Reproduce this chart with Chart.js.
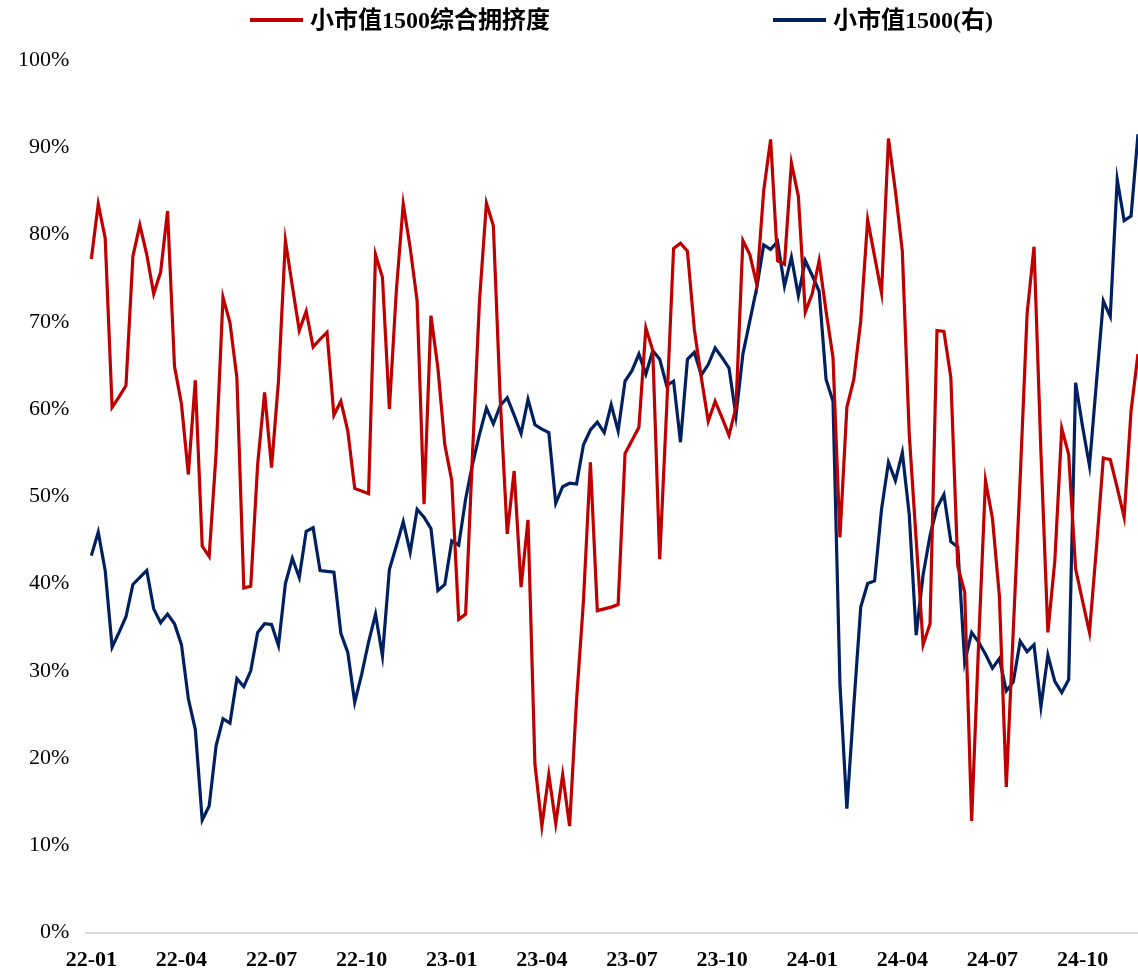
<!DOCTYPE html>
<html>
<head>
<meta charset="utf-8">
<script src="https://cdn.jsdelivr.net/npm/chart.js@4"></script>
<style>
  html, body { margin: 0; padding: 0; background: #fff; }
  #wrap { width: 1138px; height: 971px; position: relative; }
</style>
</head>
<body>
<div id="wrap"><canvas id="chart"></canvas></div>
<script>
// weekly points, 2022-01 .. 2024-11
const tickLabels = ['22-01', '22-04', '22-07', '22-10', '23-01', '23-04', '23-07', '23-10', '24-01', '24-04', '24-07', '24-10'];
const weeksPerTick = 13;

const crowding = [
    77.2, 83.5, 79.6, 60.2, 61.4, 62.7, 77.5, 81.1, 77.7, 73.2,
    75.7, 82.7, 64.9, 60.6, 52.5, 63.3, 44.3, 43.1, 54.9, 72.8,
    69.9, 63.6, 39.5, 39.7, 53.7, 61.9, 53.3, 63.2, 79.3, 74.1,
    69.0, 71.2, 67.1, 68.0, 68.8, 59.3, 60.9, 57.5, 50.9, 50.6,
    50.3, 77.7, 75.1, 60.0, 73.5, 83.5, 78.5, 72.4, 49.1, 70.7,
    64.7, 55.9, 51.8, 35.9, 36.5, 55.0, 72.4, 83.6, 81.0, 61.0,
    45.7, 52.9, 39.6, 47.3, 19.3, 12.2, 18.1, 12.5, 18.1, 12.2,
    26.6, 38.0, 53.9, 36.9, 37.1, 37.3, 37.6, 54.9, 56.4, 57.9,
    69.3, 66.7, 42.8, 60.0, 78.4, 79.0, 78.1, 69.1, 63.6, 58.6,
    60.9, 59.0, 57.0, 60.2, 79.3, 77.7, 74.3, 85.0, 90.9, 77.0,
    76.6, 88.2, 84.4, 71.1, 73.2, 77.0, 71.2, 65.9, 45.3, 60.2,
    63.4, 70.1, 81.7, 77.5, 73.3, 91.0, 85.0, 78.1, 57.1, 45.0,
    33.0, 35.4, 69.0, 68.9, 63.6, 42.0, 39.0, 12.8, 33.0, 51.8,
    47.5, 38.6, 16.7, 34.5, 52.0, 70.9, 78.6, 55.0, 34.4, 42.6,
    57.8, 54.8, 41.7, 38.0, 34.4, 44.0, 54.4, 54.2, 51.0, 47.6,
    59.8, 66.3
];

// right axis (hidden in the original), read against the left grid
const smallCap = [
    43.2, 45.9, 41.5, 32.7, 34.4, 36.2, 39.9, 40.7, 41.5, 37.1,
    35.5, 36.5, 35.4, 33.0, 26.8, 23.3, 12.9, 14.5, 21.4, 24.5,
    24.0, 29.1, 28.2, 30.0, 34.4, 35.4, 35.3, 32.9, 40.0, 42.9,
    40.7, 46.0, 46.4, 41.5, 41.4, 41.3, 34.3, 32.1, 26.4, 29.6,
    33.3, 36.5, 31.7, 41.6, 44.3, 47.1, 43.6, 48.5, 47.6, 46.3,
    39.2, 39.9, 44.9, 44.4, 49.7, 53.7, 57.1, 60.1, 58.3, 60.4,
    61.3, 59.3, 57.2, 61.1, 58.2, 57.7, 57.3, 49.2, 51.1, 51.5,
    51.4, 55.9, 57.6, 58.5, 57.3, 60.5, 57.5, 63.2, 64.4, 66.3,
    64.0, 66.7, 65.7, 62.7, 63.2, 56.2, 65.7, 66.5, 63.9, 65.1,
    67.0, 65.9, 64.7, 59.2, 66.3, 70.1, 73.9, 78.8, 78.3, 79.2,
    74.1, 77.4, 73.0, 77.0, 75.3, 73.5, 63.4, 60.9, 28.5, 14.2,
    26.0, 37.3, 40.0, 40.3, 48.5, 53.9, 51.8, 55.0, 47.9, 34.1,
    41.0, 45.5, 48.7, 50.2, 44.8, 44.2, 31.0, 34.4, 33.3, 31.9,
    30.3, 31.4, 27.7, 28.7, 33.4, 32.2, 33.0, 25.9, 31.8, 28.8,
    27.5, 29.0, 63.0, 58.0, 53.5, 63.0, 72.4, 70.6, 86.3, 81.6,
    82.1, 91.5
];

const seriesNames = ['小市值1500综合拥挤度', '小市值1500(右)'];
const seriesColors = ['#C00000', '#002060'];

const serif = '"Liberation Serif", "Times New Roman", "Noto Sans CJK SC", serif';

const toPoints = arr => arr.map((v, i) => ({ x: i, y: v }));

// the two legend entries sit far apart, so draw them by hand
const topLegend = {
    id: 'topLegend',
    afterDraw(chart) {
        const ctx = chart.ctx;
        const starts = [250, 773];
        ctx.save();
        ctx.font = 'bold 24px ' + serif;
        ctx.textBaseline = 'middle';
        chart.data.datasets.forEach((ds, k) => {
            const x = starts[k], y = 20;
            ctx.strokeStyle = ds.borderColor;
            ctx.lineWidth = 4;
            ctx.beginPath();
            ctx.moveTo(x, y);
            ctx.lineTo(x + 53, y);
            ctx.stroke();
            ctx.fillStyle = '#000';
            ctx.fillText(ds.label, x + 60, y + 2);
        });
        ctx.restore();
    }
};

new Chart(document.getElementById('chart'), {
    type: 'line',
    data: {
        datasets: [
            { label: seriesNames[0], data: toPoints(crowding), borderColor: seriesColors[0], backgroundColor: seriesColors[0], yAxisID: 'y' },
            { label: seriesNames[1], data: toPoints(smallCap), borderColor: seriesColors[1], backgroundColor: seriesColors[1], yAxisID: 'y1' }
        ]
    },
    options: {
        responsive: true,
        maintainAspectRatio: false,
        animation: false,
        layout: { padding: { top: 60, left: 1, right: 0, bottom: -18 } },
        elements: {
            point: { radius: 0 },
            line: { borderWidth: 3.2, tension: 0 }
        },
        plugins: {
            legend: { display: false },
            tooltip: { enabled: false }
        },
        scales: {
            x: {
                type: 'linear',
                min: -0.72,
                max: crowding.length - 1,
                afterBuildTicks: scale => {
                    scale.ticks = tickLabels.map((_, k) => ({ value: k * weeksPerTick }));
                },
                ticks: {
                    callback: (v, i) => tickLabels[i],
                    font: { family: serif, size: 22, weight: 'bold' },
                    color: '#000',
                    padding: 15,
                    maxRotation: 0,
                    autoSkip: false
                },
                grid: { display: false, drawTicks: false },
                border: { display: true, color: '#d9d9d9', width: 2 }
            },
            y: {
                min: 0,
                max: 100,
                ticks: {
                    stepSize: 10,
                    callback: v => v + '%',
                    font: { family: serif, size: 22 },
                    color: '#000',
                    padding: 17
                },
                grid: { display: false, drawTicks: false },
                border: { display: false }
            },
            y1: { display: false, position: 'right', min: 0, max: 100 }
        }
    },
    plugins: [topLegend]
});
</script>
</body>
</html>
